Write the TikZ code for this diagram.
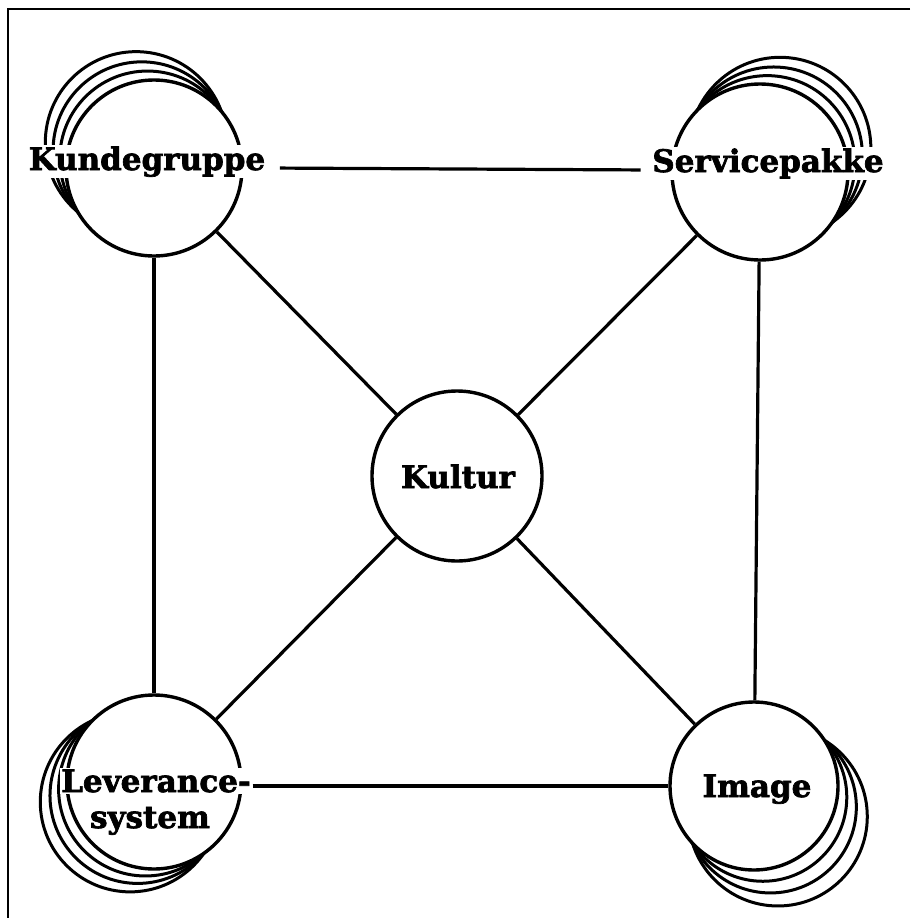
\documentclass[tikz,border=0pt]{standalone}
\usepackage{fontspec}
\setmainfont{DejaVu Serif}
\newfontfamily\heavyfont{DejaVu Serif Bold}[FakeBold=2.2]
\usetikzlibrary{calc}
\newcommand\stackarcs[6]{% cx cy r theta alpha gapscale
  \foreach \g in {11,22,34}{%
    \pgfmathsetmacro\sGG{\g*#6}%
    \pgfmathsetmacro\sMM{#3*cos(#5)}%
    \pgfmathsetmacro\sTT{\sGG*(2*#3+\sGG)/(2*(#3+\sGG-\sMM))}%
    \pgfmathsetmacro\sRR{#3+\sGG-\sTT}%
    \draw[arcline] ($(#1,#2)+(#4:\sTT pt)$) circle[radius=\sRR pt];
  }}
\begin{document}
\begin{tikzpicture}[x=1pt,y=-1pt,
  ring/.style={circle,draw,line width=3.4pt,fill=white,inner sep=0pt},
  arcline/.style={line width=3pt},
  link/.style={line width=3.2pt},
  frameline/.style={line width=2.6pt},
  lbl/.style={font=\fontsize{31}{33}\selectfont\heavyfont,fill=white,inner sep=1.5pt,anchor=base}]
\useasboundingbox (0,0) rectangle (912,924);
\draw[frameline] (910,9) -| (8,918);
% stacked arcs
\stackarcs{154}{168}{88}{125}{85}{1}
\stackarcs{760}{172}{88}{50}{85}{1}
\stackarcs{154}{782}{87}{220}{85}{1}
\stackarcs{754}{786}{84}{308}{85}{1.3}
% circles
\node[ring,minimum size=176pt] (kunde) at (154,168) {};
\node[ring,minimum size=176pt] (service) at (760,172) {};
\node[ring,minimum size=174pt] (lev) at (154,782) {};
\node[ring,minimum size=168pt] (image) at (754,786) {};
\node[ring,minimum size=170pt] (kultur) at (457,476) {};
% labels
\node[lbl] (kundetext) at (147,170) {Kundegruppe};
\node[lbl] (servicetext) at (768,172) {Servicepakke};
\node[lbl] (levtext1) at (156,792) {Leverance-};
\node[lbl] (levtext2) at (150,828) {system};
\node[lbl,fill=none] (imagetext) at (757,797) {Image};
\node[lbl,fill=none] (kulturtext) at (458,488) {Kultur};
% connectors
\draw[link] (kunde) -- (lev);
\draw[link] (service) -- (image);
\draw[link] (kunde) -- (kultur);
\draw[link] (service) -- (kultur);
\draw[link] (lev) -- (kultur);
\draw[link] (image) -- (kultur);
\draw[link,shorten <=13pt,shorten >=10pt] ([yshift=2pt]kundetext.base east) -- ([yshift=2pt]servicetext.base west);
\draw[link] (levtext1.east |- image.west) -- (image.west);
\end{tikzpicture}
\end{document}
